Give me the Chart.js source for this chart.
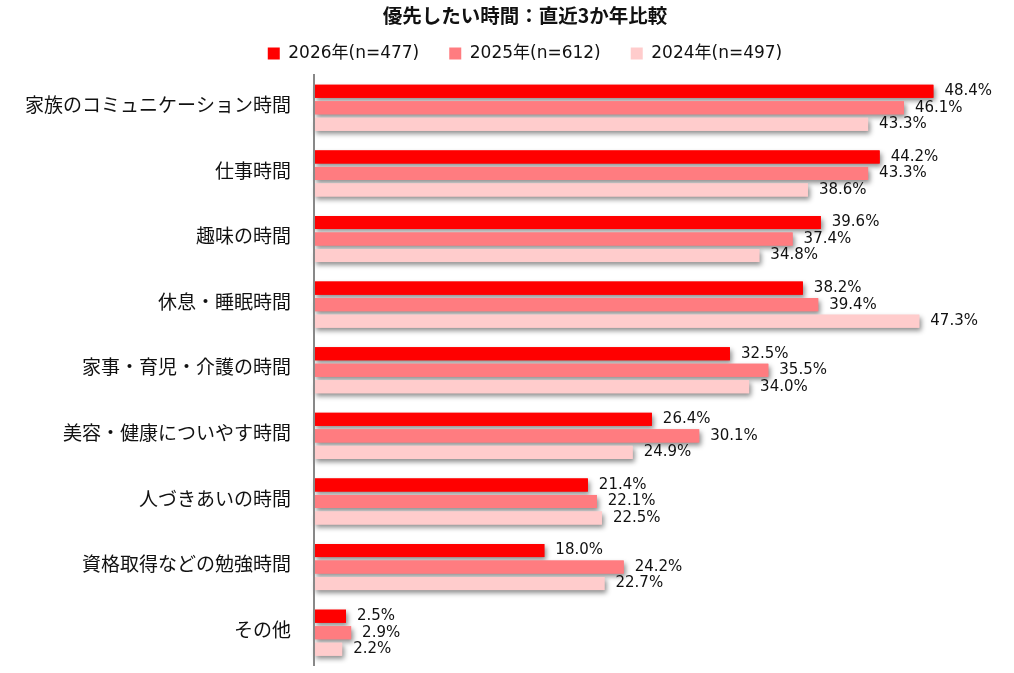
<!DOCTYPE html>
<html>
<head>
<meta charset="utf-8">
<script src="https://cdn.jsdelivr.net/npm/chart.js@4/dist/chart.umd.min.js"></script>
<style>
  html, body { margin: 0; padding: 0; background: #fff; }
  #wrap { width: 1014px; height: 673px; }
</style>
</head>
<body>
<div id="wrap"><canvas id="myChart"></canvas></div>
<script>
// categories (top to bottom)
const categories = [
  "家族のコミュニケーション時間",
  "仕事時間",
  "趣味の時間",
  "休息・睡眠時間",
  "家事・育児・介護の時間",
  "美容・健康についやす時間",
  "人づきあいの時間",
  "資格取得などの勉強時間",
  "その他",
];
const seriesNames = ["2026年(n=477)", "2025年(n=612)", "2024年(n=497)"];
// percent values
const values2026 = [48.4, 44.2, 39.6, 38.2, 32.5, 26.4, 21.4, 18.0, 2.5];
const values2025 = [46.1, 43.3, 37.4, 39.4, 35.5, 30.1, 22.1, 24.2, 2.9];
const values2024 = [43.3, 38.6, 34.8, 47.3, 34.0, 24.9, 22.5, 22.7, 2.2];
const seriesColors = ["#FF0000", "#FF7C80", "#FFCCCC"];

const jpFont = "'Noto Sans CJK JP', 'Noto Sans', sans-serif";
const numFont = "'DejaVu Sans', 'Noto Sans CJK JP', sans-serif";

// grey drop shadow under every bar (drawn first, bars go on top)
const barShadow = {
  id: "barShadow",
  beforeDatasetsDraw(chart) {
    const ctx = chart.ctx;
    ctx.save();
    ctx.shadowColor = "rgba(0,0,0,0.45)";
    ctx.shadowBlur = 5;
    ctx.shadowOffsetX = 2;
    ctx.shadowOffsetY = 3;
    chart.data.datasets.forEach((ds, i) => {
      const meta = chart.getDatasetMeta(i);
      ctx.fillStyle = ds.backgroundColor;
      meta.data.forEach((bar) => {
        const p = bar.getProps(["x", "y", "base", "height"], true);
        ctx.fillRect(p.base, p.y - p.height / 2, p.x - p.base, p.height);
      });
    });
    ctx.restore();
  },
};

// value labels at the end of each bar
const valueLabels = {
  id: "valueLabels",
  afterDatasetsDraw(chart) {
    const ctx = chart.ctx;
    ctx.save();
    ctx.font = "15px " + numFont;
    ctx.fillStyle = "#111";
    ctx.textAlign = "left";
    ctx.textBaseline = "middle";
    chart.data.datasets.forEach((ds, i) => {
      const meta = chart.getDatasetMeta(i);
      meta.data.forEach((bar, j) => {
        ctx.fillText(ds.data[j].toFixed(1) + "%", bar.x + 11, bar.y);
      });
    });
    ctx.restore();
  },
};

const ctx = document.getElementById("myChart").getContext("2d");
const myChart = new Chart(ctx, {
  type: "bar",
  data: {
    labels: categories,
    datasets: [
      { label: seriesNames[0], data: values2026, backgroundColor: seriesColors[0] },
      { label: seriesNames[1], data: values2025, backgroundColor: seriesColors[1] },
      { label: seriesNames[2], data: values2024, backgroundColor: seriesColors[2] },
    ],
  },
  options: {
    indexAxis: "y",
    responsive: true,
    maintainAspectRatio: false,
    animation: false,
    datasets: {
      bar: { categoryPercentage: 0.755, barPercentage: 0.79, borderWidth: 0 },
    },
    // negative right padding shifts title/legend centre to the right
    layout: { autoPadding: false, padding: { left: 0, right: -36, top: 0, bottom: 7.5 } },
    scales: {
      x: {
        position: "top",
        min: 0,
        max: 54.7,
        grid: { display: false, drawTicks: false },
        ticks: { display: false },
        border: { display: false },
        // empty title used as a small gap above the plot
        title: { display: true, text: "", font: { size: 3, lineHeight: 1 }, padding: { top: 0, bottom: 0 } },
      },
      y: {
        grid: { display: false, drawTicks: false },
        border: { display: true, color: "#888888", width: 2, z: 1 },
        ticks: {
          color: "#111",
          padding: 23,
          labelOffset: -3,
          font: { family: jpFont, size: 19 },
        },
        afterFit(scale) {
          scale.width = 314;
          scale.paddingTop = 0;
          scale.paddingBottom = 0;
        },
      },
    },
    plugins: {
      title: {
        display: true,
        text: "優先したい時間：直近3か年比較",
        color: "#111",
        font: { family: jpFont, size: 19.5, weight: "bold", lineHeight: 1.2 },
        padding: { top: 4.3, bottom: -12.7 },
      },
      legend: {
        position: "top",
        labels: {
          boxWidth: 12,
          boxHeight: 12,
          padding: 30,
          color: "#111",
          font: { family: numFont, size: 17 },
        },
      },
      tooltip: { enabled: false },
    },
  },
  plugins: [barShadow, valueLabels],
});
</script>
</body>
</html>
